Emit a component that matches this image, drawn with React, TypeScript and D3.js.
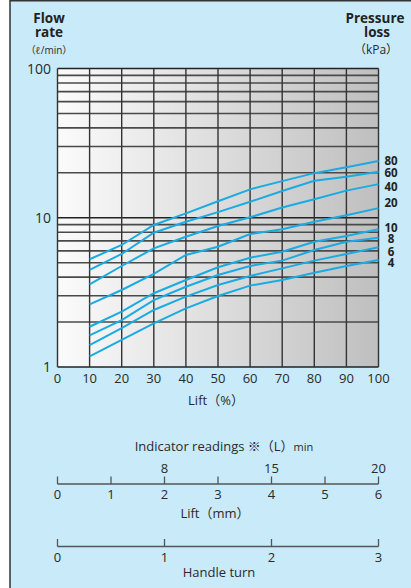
import React from "react";
import * as d3 from "d3";

const lifts = [10, 20, 30, 40, 50, 60, 70, 80, 90, 100];
const pressureLabels = ["80", "60", "40", "20", "10", "8", "6", "4"];
const s80 = [5.27, 6.57, 8.94, 10.7, 12.9, 15.5, 17.6, 19.9, 21.8, 24.0];
const s60 = [4.47, 5.72, 7.94, 9.41, 10.9, 12.8, 15.1, 17.7, 18.8, 20.3];
const s40 = [3.58, 4.75, 6.24, 7.46, 8.81, 10.07, 11.7, 13.3, 15.2, 16.8];
const s20 = [2.63, 3.28, 4.2, 5.63, 6.4, 7.78, 8.37, 9.41, 10.4, 11.6];
const s10 = [1.86, 2.35, 3.12, 3.83, 4.66, 5.4, 5.92, 6.91, 7.55, 8.37];
const s8 = [1.63, 2.06, 2.81, 3.45, 4.13, 4.75, 5.16, 6.08, 6.91, 7.35];
const s6 = [1.4, 1.82, 2.41, 2.96, 3.54, 4.07, 4.58, 5.16, 5.72, 6.34];
const s4 = [1.18, 1.52, 1.96, 2.47, 2.99, 3.51, 3.83, 4.28, 4.75, 5.21];
const seriesList = [s80, s60, s40, s20, s10, s8, s6, s4];
const labelAnchors = [24, 19.9, 16.1, 12.5, 8.5, 7.2, 5.92, 5.0];

const xTicks = [0, 10, 20, 30, 40, 50, 60, 70, 80, 90, 100];
const yTickLabels = [1, 10, 100];
const liftMmTicks = [0, 1, 2, 3, 4, 5, 6];
const indicatorTicks = [{ mm: 2, label: "8" }, { mm: 4, label: "15" }, { mm: 6, label: "20" }];
const handleTicks = [0, 1, 2, 3];

const FONT = "'Open Sans', 'Noto Sans CJK JP', sans-serif";
const BLUE = "#19abe3";
const BG = "#c8eaf9";
const TXT = "#2a2a2a";

export default function App() {
  const W = 411, H = 588;
  const x = d3.scaleLinear().domain([0, 100]).range([57.5, 378.5]);
  const y = d3.scaleLog().domain([1, 100]).range([367, 68.5]);
  const xmm = d3.scaleLinear().domain([0, 6]).range([57.5, 378.5]);
  const xturn = d3.scaleLinear().domain([0, 3]).range([57.5, 378.5]);

  const gridY: number[] = [];
  for (let d = 1; d < 100; d *= 10) for (let k = 1; k <= 10; k++) gridY.push(d * k);
  const uniqY = Array.from(new Set(gridY));

  const line = d3
    .line<number>()
    .x((_, i) => x(lifts[i]))
    .y((v) => y(v));

  const major = (v: number) => v === 10 || v === 1 || v === 100;

  return (
    <svg width={W} height={H} style={{ position: "absolute", left: 0, top: 0 }} fontFamily={FONT}>
      <defs>
        <linearGradient id="plotbg" x1="0" x2="1" y1="0" y2="0">
          <stop offset="0" stopColor="#fbfbfb" />
          <stop offset="1" stopColor="#bfbfbf" />
        </linearGradient>
      </defs>
      <rect x={0} y={0} width={W} height={H} fill="#fff" />
      <rect x={10} y={0.75} width={W + 10} height={H + 10} fill={BG} stroke="#333" strokeWidth={1.5} />

      <rect x={x(0)} y={y(100)} width={x(100) - x(0)} height={y(1) - y(100)} fill="url(#plotbg)" />

      {uniqY.map((v) => (
        <line key={"gy" + v} x1={x(0)} x2={x(100)} y1={y(v)} y2={y(v)} stroke={major(v) ? "#222" : "#4a4a4a"} strokeWidth={major(v) ? 1.3 : 1.6} />
      ))}
      {xTicks.map((t) => (
        <line key={"gx" + t} x1={x(t)} x2={x(t)} y1={y(100)} y2={y(1)} stroke="#333" strokeWidth={1.4} />
      ))}

      {seriesList.map((s, i) => (
        <path key={"s" + i} d={line(s) || ""} fill="none" stroke={BLUE} strokeWidth={2} />
      ))}

      {pressureLabels.map((l, i) => (
        <text key={"pl" + i} x={391} y={y(labelAnchors[i])} dy="0.36em" textAnchor="middle" fontWeight="bold" fontSize={11.5} fill="#222">
          {l}
        </text>
      ))}

      {yTickLabels.map((t) => (
        <text key={"yt" + t} x={51} y={y(t)} dy="0.36em" textAnchor="end" fontSize={14} fill={TXT}>
          {t}
        </text>
      ))}
      {xTicks.map((t) => (
        <text key={"xt" + t} x={x(t)} y={383} textAnchor="middle" fontSize={13} fill={TXT}>
          {t}
        </text>
      ))}
      <text x={216} y={405} textAnchor="middle" fontSize={13} fill={TXT}>Lift（%）</text>

      <text x={49} y={22.5} textAnchor="middle" fontWeight="bold" fontSize={13.5} fill="#222">Flow</text>
      <text x={49} y={36.5} textAnchor="middle" fontWeight="bold" fontSize={13.5} fill="#222">rate</text>
      <text x={49} y={53.5} textAnchor="middle" fontSize={10} fill={TXT}>（ℓ/min）</text>
      <text x={375} y={22.5} textAnchor="middle" fontWeight="bold" fontSize={13.5} fill="#222">Pressure</text>
      <text x={377} y={36.5} textAnchor="middle" fontWeight="bold" fontSize={13.5} fill="#222">loss</text>
      <text x={376} y={53.5} textAnchor="middle" fontSize={12} fill={TXT}>（kPa）</text>

      <text x={224} y={450.5} textAnchor="middle" fontSize={13} fill={TXT}>
        Indicator readings ※（L）<tspan fontSize={11}>min</tspan>
      </text>
      {indicatorTicks.map((t) => (
        <text key={"it" + t.mm} x={xmm(t.mm)} y={472.5} textAnchor="middle" fontSize={13} fill={TXT}>
          {t.label}
        </text>
      ))}
      <line x1={xmm(0)} x2={xmm(6)} y1={484} y2={484} stroke="#555" strokeWidth={1.5} />
      {liftMmTicks.map((t) => (
        <g key={"lm" + t}>
          <line x1={xmm(t)} x2={xmm(t)} y1={476.5} y2={484} stroke="#555" strokeWidth={1.3} />
          <text x={xmm(t)} y={498.5} textAnchor="middle" fontSize={13} fill={TXT}>{t}</text>
        </g>
      ))}
      <text x={215} y={518} textAnchor="middle" fontSize={13} fill={TXT}>Lift（mm）</text>

      <line x1={xturn(0)} x2={xturn(3)} y1={546.5} y2={546.5} stroke="#555" strokeWidth={1.5} />
      {handleTicks.map((t) => (
        <g key={"ht" + t}>
          <line x1={xturn(t)} x2={xturn(t)} y1={539} y2={546.5} stroke="#555" strokeWidth={1.3} />
          <text x={xturn(t)} y={561.5} textAnchor="middle" fontSize={13} fill={TXT}>{t}</text>
        </g>
      ))}
      <text x={219} y={576.5} textAnchor="middle" fontSize={13} fill={TXT}>Handle turn</text>
    </svg>
  );
}
